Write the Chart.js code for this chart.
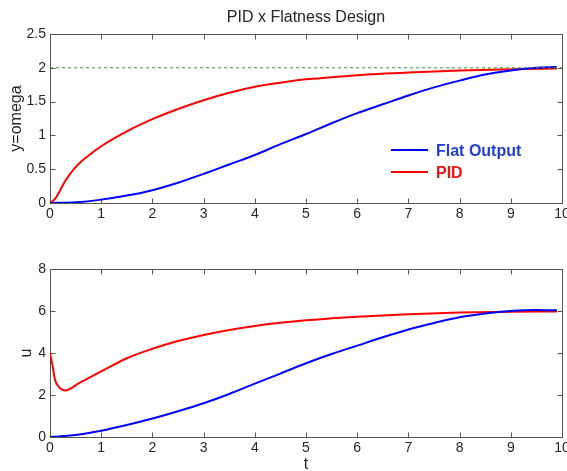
<!DOCTYPE html>
<html>
<head>
<meta charset="utf-8">
<script src="https://cdn.jsdelivr.net/npm/chart.js@4.4.1/dist/chart.umd.min.js"></script>
<style>
  html, body { margin: 0; padding: 0; background: #fff; }
  #wrap { position: relative; width: 567px; height: 471px; overflow: hidden; }
  canvas { position: absolute; left: 0; }
  #top { top: 0; }
  #bottom { top: 240px; }
</style>
</head>
<body>
<div id="wrap">
  <canvas id="top" width="567" height="240"></canvas>
  <canvas id="bottom" width="567" height="231"></canvas>
</div>
<script>
// 上图: y=omega
const flatYT = [0, 0.5, 1, 1.5, 2, 2.5, 3, 3.5, 4, 4.5, 5, 5.5, 6, 6.5, 7, 7.5, 8, 8.5, 9, 9.5, 9.9]
const flatY = [0, 0.01, 0.05, 0.11, 0.19, 0.3, 0.43, 0.57, 0.71, 0.87, 1.02, 1.18, 1.33, 1.46, 1.59, 1.71, 1.81, 1.9, 1.96, 2.0, 2.01]
const pidYT = [0, 0.1, 0.2, 0.3, 0.5, 0.75, 1, 1.5, 2, 2.5, 3, 3.5, 4, 4.5, 5, 5.5, 6, 7, 8, 9, 9.9]
const pidY = [0, 0.06, 0.19, 0.33, 0.53, 0.7, 0.84, 1.06, 1.24, 1.39, 1.52, 1.63, 1.72, 1.78, 1.83, 1.86, 1.89, 1.93, 1.96, 1.98, 1.99]
const refT = [0, 10]
const refY = [2, 2]

// 下图: u
const flatUT = [0, 0.5, 1, 1.5, 2, 2.5, 3, 3.5, 4, 4.5, 5, 5.5, 6, 6.5, 7, 7.5, 8, 8.5, 9, 9.5, 9.9]
const flatU = [0, 0.1, 0.3, 0.57, 0.88, 1.23, 1.61, 2.05, 2.54, 3.02, 3.51, 3.95, 4.35, 4.75, 5.12, 5.43, 5.7, 5.88, 6.0, 6.05, 6.03]
const pidUT = [0, 0.05, 0.1, 0.16, 0.23, 0.31, 0.4, 0.55, 0.75, 1, 1.5, 2, 2.5, 3, 3.5, 4, 4.5, 5, 5.5, 6, 7, 8, 9, 9.9]
const pidU = [4, 3.4, 2.7, 2.43, 2.27, 2.22, 2.3, 2.54, 2.8, 3.12, 3.75, 4.2, 4.57, 4.86, 5.1, 5.29, 5.44, 5.56, 5.65, 5.73, 5.85, 5.93, 5.97, 5.98]

const xTicks = [0, 1, 2, 3, 4, 5, 6, 7, 8, 9, 10]
const yTicksTop = [0, 0.5, 1, 1.5, 2, 2.5]
const yTicksBottom = [0, 2, 4, 6, 8]

const FONT = "'Liberation Sans', Arial, sans-serif"
const INK = '#262626'
const BOX = '#555555'

Chart.defaults.font.family = FONT
Chart.defaults.color = INK

const pts = (xs, ys) => xs.map((x, i) => ({ x, y: ys[i] }))

/**
 * 外框, 内向刻度, 标题, 图例
 */
const frame = {
  id: 'frame',
  beforeDatasetsDraw: (chart) => {
    const { ctx, chartArea: a, scales } = chart
    const L = Math.round(a.left) + 0.5
    const R = Math.round(a.right) + 0.5
    const T = Math.round(a.top) + 0.5
    const B = Math.round(a.bottom) + 0.5
    ctx.save()
    ctx.strokeStyle = BOX
    ctx.lineWidth = 1
    ctx.strokeRect(L, T, R - L, B - T)
    ctx.beginPath()
    scales.x.ticks.forEach(t => {
      const px = Math.round(scales.x.getPixelForValue(t.value)) + 0.5
      ctx.moveTo(px, T); ctx.lineTo(px, T + 5)
      ctx.moveTo(px, B); ctx.lineTo(px, B - 5)
    })
    scales.y.ticks.forEach(t => {
      const py = Math.round(scales.y.getPixelForValue(t.value)) + 0.5
      ctx.moveTo(L, py); ctx.lineTo(L + 5, py)
      ctx.moveTo(R, py); ctx.lineTo(R - 5, py)
    })
    ctx.stroke()
    ctx.restore()
  },
  afterDatasetsDraw: (chart, args, opts) => {
    const { ctx, chartArea: a } = chart
    ctx.save()
    if (opts.title) {
      ctx.fillStyle = INK
      ctx.font = '16px ' + FONT
      ctx.textAlign = 'center'
      ctx.textBaseline = 'middle'
      ctx.fillText(opts.title, (a.left + a.right) / 2, 18)
    }
    if (opts.legend) {
      let y = 150
      chart.data.datasets.filter(d => d.label).forEach(d => {
        ctx.strokeStyle = d.borderColor
        ctx.lineWidth = 2
        ctx.beginPath()
        ctx.moveTo(391, y); ctx.lineTo(428, y)
        ctx.stroke()
        ctx.fillStyle = d.textColor
        ctx.font = 'bold 16px ' + FONT
        ctx.textAlign = 'left'
        ctx.textBaseline = 'middle'
        ctx.fillText(d.label, 436, y + 2)
        y += 22
      })
    }
    ctx.restore()
  },
}

const makeScales = (yMin, yMax, yTicks, yTitle, yTitlePad, xTitle, xHeight) => ({
  x: {
    type: 'linear', min: 0, max: 10,
    afterBuildTicks: (s) => { s.ticks = xTicks.map(v => ({ value: v })) },
    ticks: { font: { size: 14 }, padding: 3, maxRotation: 0, autoSkip: false, callback: v => String(v) },
    grid: { display: false, drawTicks: false },
    border: { display: false },
    title: { display: !!xTitle, text: xTitle, font: { size: 16, lineHeight: 0.85 }, padding: 0, color: INK },
    afterFit: (s) => { s.height = xHeight; s.paddingLeft = 0; s.paddingRight = 0 },
  },
  y: {
    type: 'linear', min: yMin, max: yMax,
    afterBuildTicks: (s) => { s.ticks = yTicks.map(v => ({ value: v })) },
    ticks: { font: { size: 14 }, padding: 4, callback: v => String(v) },
    grid: { display: false, drawTicks: false },
    border: { display: false },
    title: { display: true, text: yTitle, font: { size: 16, lineHeight: 1.2 }, padding: { top: yTitlePad, bottom: 0 }, color: INK },
    afterFit: (s) => { s.width = 50; s.paddingTop = 0; s.paddingBottom = 0 },
  },
})

const line = (label, data, color, textColor) => ({
  label, data, textColor,
  borderColor: color,
  borderWidth: 2,
  pointRadius: 0,
  cubicInterpolationMode: 'monotone',
})

new Chart(document.getElementById('top'), {
  type: 'line',
  data: {
    datasets: [
      {
        label: '', data: pts(refT, refY),
        borderColor: '#3a9a3a', borderWidth: 1, borderDash: [3, 3], pointRadius: 0,
      },
      line('Flat Output', pts(flatYT, flatY), '#0000ff', '#1f3fd2'),
      line('PID', pts(pidYT, pidY), '#ff0000', '#f01414'),
    ],
  },
  options: {
    responsive: false,
    devicePixelRatio: 1,
    animation: false,
    layout: { padding: { top: 34, right: 5, left: 0, bottom: 0 } },
    scales: makeScales(0, 2.5, yTicksTop, 'y=omega', 7, '', 37),
    plugins: {
      legend: { display: false },
      tooltip: { enabled: false },
      frame: { title: 'PID x Flatness Design', legend: true },
    },
  },
  plugins: [frame],
})

new Chart(document.getElementById('bottom'), {
  type: 'line',
  data: {
    datasets: [
      line('', pts(flatUT, flatU), '#0000ff', '#1f3fd2'),
      line('', pts(pidUT, pidU), '#ff0000', '#f01414'),
    ],
  },
  options: {
    responsive: false,
    devicePixelRatio: 1,
    animation: false,
    layout: { padding: { top: 29, right: 5, left: 0, bottom: 0 } },
    scales: makeScales(0, 8, yTicksBottom, 'u', 17, 't', 34),
    plugins: {
      legend: { display: false },
      tooltip: { enabled: false },
      frame: { title: '', legend: false },
    },
  },
  plugins: [frame],
})
</script>
</body>
</html>
